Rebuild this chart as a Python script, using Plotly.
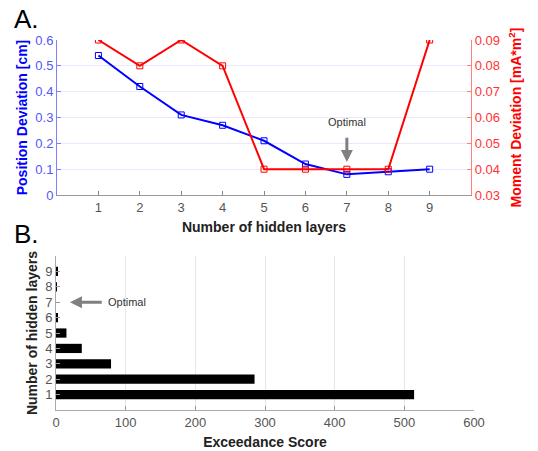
import plotly.graph_objects as go

layers = [1, 2, 3, 4, 5, 6, 7, 8, 9]
position_dev = [0.54, 0.42, 0.31, 0.27, 0.21, 0.12, 0.08, 0.09, 0.10]
moment_dev = [0.09, 0.08, 0.09, 0.08, 0.04, 0.04, 0.04, 0.04, 0.09]
exceedance = [514, 285, 79, 37, 15, 1.5, 0, 1, 1.5]

FONT = "Liberation Sans, Arial, sans-serif"
BLUE = "#0000ff"
RED = "#ff0000"
fig = go.Figure()

fig.add_trace(go.Scatter(x=layers, y=position_dev, mode="lines+markers",
                         line=dict(color=BLUE, width=2),
                         marker=dict(symbol="square-open", size=6, color=BLUE),
                         xaxis="x", yaxis="y", showlegend=False))
fig.add_trace(go.Scatter(x=layers, y=moment_dev, mode="lines+markers",
                         line=dict(color=RED, width=2),
                         marker=dict(symbol="square-open", size=6, color=RED),
                         xaxis="x", yaxis="y2", showlegend=False))
fig.add_trace(go.Bar(x=exceedance, y=layers, orientation="h", width=0.6,
                     marker=dict(color="black", line=dict(width=0)),
                     xaxis="x2", yaxis="y3", showlegend=False))

tickfont = dict(family=FONT, size=13, color="#555555")
titlefont = dict(family=FONT, size=14, color="#222222")

fig.update_layout(
    width=538, height=451,
    margin=dict(l=56, r=64, t=40, b=41),
    paper_bgcolor="white", plot_bgcolor="white",
    font=dict(family=FONT),
    xaxis=dict(domain=[0.0024, 0.993], range=[0, 10], tickvals=layers,
               ticks="inside", ticklen=4, tickcolor="#888888",
               showline=True, linecolor="#999999", linewidth=1,
               showgrid=False, zeroline=False, tickfont=tickfont,
               title=dict(text="<b>Number of hidden layers</b>", font=titlefont, standoff=8),
               anchor="y", automargin=False),
    yaxis=dict(domain=[0.581, 1.0], range=[0, 0.6], dtick=0.1,
               ticks="inside", ticklen=4, tickcolor="#8080ff",
               showline=True, linecolor="#8080ff", linewidth=1,
               showgrid=True, gridcolor="#e8e8ff", zeroline=False,
               tickfont=dict(family=FONT, size=13, color="#5555ff"),
               title=dict(text="<b>Position Deviation [cm]</b>",
                          font=dict(family=FONT, size=14, color=BLUE), standoff=4),
               anchor="x", automargin=False),
    yaxis2=dict(overlaying="y", side="right", range=[0.03, 0.09], dtick=0.01,
                tickformat=".2f",
                ticks="inside", ticklen=4, tickcolor="#ff8080",
                showline=True, linecolor="#ff8080", linewidth=1,
                showgrid=False, zeroline=False,
                tickfont=dict(family=FONT, size=13, color="#ff3333"),
                title=dict(text="<b>Moment Deviation [mA*m<sup>2</sup>]</b>",
                           font=dict(family=FONT, size=14, color=RED), standoff=12),
                anchor="x", automargin=False),
    xaxis2=dict(domain=[0, 1], range=[0, 600], dtick=100,
                ticks="inside", ticklen=4, tickcolor="#999999",
                showline=True, linecolor="#aaaaaa", linewidth=1,
                showgrid=True, gridcolor="#e6e6e6", zeroline=False,
                tickfont=tickfont,
                title=dict(text="<b>Exceedance Score</b>", font=titlefont, standoff=8),
                anchor="y3", automargin=False),
    yaxis3=dict(domain=[0, 0.416], range=[0, 10], tickvals=layers,
                ticks="inside", ticklen=4, tickcolor="#999999",
                showline=True, linecolor="#aaaaaa", linewidth=1,
                showgrid=False, zeroline=False,
                tickfont=tickfont,
                title=dict(text="<b>Number of hidden layers</b>", font=titlefont, standoff=4),
                anchor="x2", automargin=False),
    bargap=0.4,
)

annotations = [
    dict(text="A.", x=0.0, y=1.0, xref="paper", yref="paper", xanchor="left", yanchor="bottom",
         xshift=-44, yshift=4, showarrow=False, font=dict(family=FONT, size=26, color="black")),
    dict(text="B.", x=0.0, y=0.416, xref="paper", yref="paper", xanchor="left", yanchor="bottom",
         xshift=-44, yshift=5, showarrow=False, font=dict(family=FONT, size=26, color="black")),
    dict(text="Optimal", x=7, y=0.283, xref="x", yref="y", showarrow=False,
         font=dict(family=FONT, size=11, color="#333333")),
    dict(text=" ", x=7, y=0.128, xref="x", yref="y", ax=7, ay=0.255, axref="x", ayref="y",
         showarrow=True, arrowhead=2, arrowsize=0.8, arrowwidth=3, arrowcolor="#808080"),
    dict(text="Optimal", x=72, y=7, xref="x2", yref="y3", xanchor="left", showarrow=False,
         font=dict(family=FONT, size=11, color="#333333")),
    dict(text=" ", x=20, y=7, xref="x2", yref="y3", ax=70, ay=7, axref="x2", ayref="y3",
         showarrow=True, arrowhead=2, arrowsize=0.8, arrowwidth=3, arrowcolor="#808080"),
]
fig.update_layout(annotations=annotations)

fig.write_html("out.html", config={"displayModeBar": False},
               post_script="document.body.style.margin='0';document.body.style.overflow='hidden';")
